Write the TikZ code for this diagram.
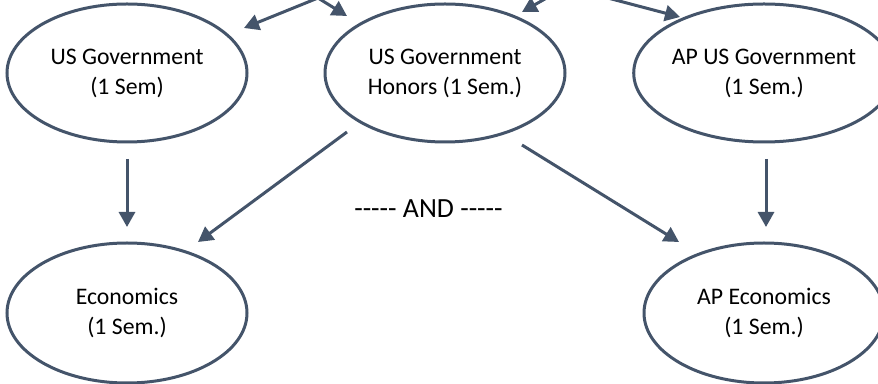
\documentclass[tikz,border=0pt]{standalone}
\usepackage{fontspec}
\setmainfont{Carlito}
\usetikzlibrary{shapes.geometric,arrows.meta}
\definecolor{edge}{HTML}{44546A}
\begin{document}
\begin{tikzpicture}[x=0.75pt,y=-0.75pt,
  course/.style={draw=edge,line width=2.25pt,ellipse,minimum width=180pt,minimum height=103.5pt,inner sep=0pt,align=center,font=\fontsize{17.8}{22.5}\selectfont},
  arr/.style={draw=edge,line width=2.25pt,-{Triangle[length=11.25pt,width=12pt]}}]
\useasboundingbox (0,0) rectangle (878,384);
\clip (0,0) rectangle (878,384);
\node[course] (usg) at (127,73) {US Government\\(1 Sem)};
\node[course] (hon) at (445,73) {US Government\\Honors (1 Sem.)};
\node[course] (apg) at (764,73) {AP US Government\\(1 Sem.)};
\node[course,minimum height=105pt] (eco) at (127,313) {Economics\\(1 Sem.)};
\node[course,minimum height=105pt] (ape) at (764,313) {AP Economics\\(1 Sem.)};
\node[anchor=base,font=\fontsize{20.8}{24}\selectfont,inner sep=0pt] (and) at (428.5,218) {-{}-{}-{}-{}- AND -{}-{}-{}-{}-};
\coordinate (tl) at (318,-2);
\coordinate (tr) at (566,-13);
\draw[arr] (tl) -- ([shift={(117,-45)}]usg.center);
\draw[arr] (tl) -- ([shift={(-98,-57)}]hon.center);
\draw[arr] (tr) -- ([shift={(77,-61)}]hon.center);
\draw[arr] (tr) -- ([shift={(-84,-56)}]apg.center);
\draw[arr] ([shift={(0,86)}]usg.center) -- ([shift={(0,-86)}]eco.center);
\draw[arr] ([shift={(2,86)}]apg.center) -- ([shift={(2,-86)}]ape.center);
\draw[arr] ([shift={(-98,59)}]hon.center) -- ([shift={(71,-71)}]eco.center);
\draw[arr] ([shift={(77,72)}]hon.center) -- ([shift={(-85,-71)}]ape.center);
\end{tikzpicture}
\end{document}
